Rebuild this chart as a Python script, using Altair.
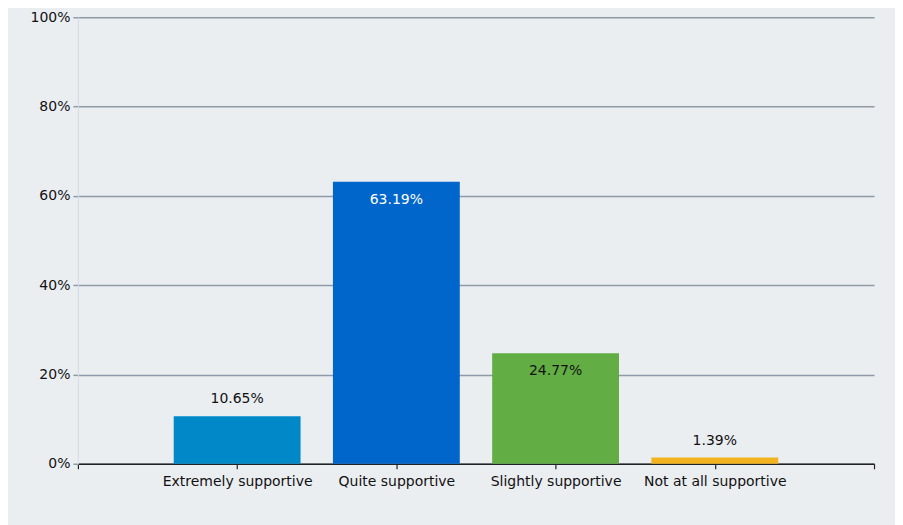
import altair as alt
import pandas as pd

categories = ["Extremely supportive", "Quite supportive", "Slightly supportive", "Not at all supportive"]
values = [10.65, 63.19, 24.77, 1.39]
bar_colors = ["#0088C9", "#0066CC", "#63AD45", "#F2B31F"]

df = pd.DataFrame({
    "cat": categories,
    "value": values,
    "pos": list(range(1, len(categories) + 1)),
    "label": [f"{v:.2f}%" for v in values],
})

label_expr = " : ".join([f"datum.value == {i+1} ? '{c}'" for i, c in enumerate(categories)]) + " : ''"

FONT = "DejaVu Sans"
FS = 14

x = alt.X("pos:Q", scale=alt.Scale(domain=[0, len(categories) + 1], nice=False, zero=False, padding=0),
          axis=alt.Axis(values=list(range(0, len(categories) + 2)), labelExpr=label_expr,
                        title=None, grid=False, domainColor="#222222", domainWidth=1.5,
                        tickColor="#222222", tickSize=5, tickWidth=1.2,
                        labelFont=FONT, labelFontSize=FS, labelColor="#111111", labelPadding=6,
                        labelOverlap=False))

y = alt.Y("value:Q", scale=alt.Scale(domain=[0, 100], nice=False),
          axis=alt.Axis(values=[0, 20, 40, 60, 80, 100], labelExpr="datum.value + '%'",
                        title=None, grid=True, gridColor="#8C9BA6", gridWidth=1.5,
                        domain=True, domainColor="#D5DCE4", domainWidth=1,
                        tickColor="#8C9BA6", tickSize=5, tickWidth=1.5,
                        labelFont=FONT, labelFontSize=FS, labelColor="#111111", labelPadding=3))

base = alt.Chart(df)

bars = base.mark_bar(width=127).encode(
    x=x, y=y,
    color=alt.Color("cat:N", scale=alt.Scale(domain=categories, range=bar_colors), legend=None),
)

above = base.transform_filter("datum.value < 20").mark_text(
    font=FONT, fontSize=FS, dy=-10, baseline="bottom", color="#111111"
).encode(x="pos:Q", y="value:Q", text="label:N")

inside = base.transform_filter("datum.value >= 20").mark_text(
    font=FONT, fontSize=FS, dy=11, baseline="top"
).encode(
    x="pos:Q", y="value:Q", text="label:N",
    color=alt.condition("datum.cat == 'Quite supportive'", alt.value("#FFFFFF"), alt.value("#111111")),
)

chart = alt.layer(bars, above, inside).properties(
    width=797, height=447,
    autosize=alt.AutoSizeParams(type="none"),
    padding={"left": 70, "top": 9, "right": 21, "bottom": 64},
    background="#EBEEF1",
).configure_view(stroke=None, fill="#EBEEF1")

chart.save("out.html", embed_options={"renderer": "svg", "actions": False})
